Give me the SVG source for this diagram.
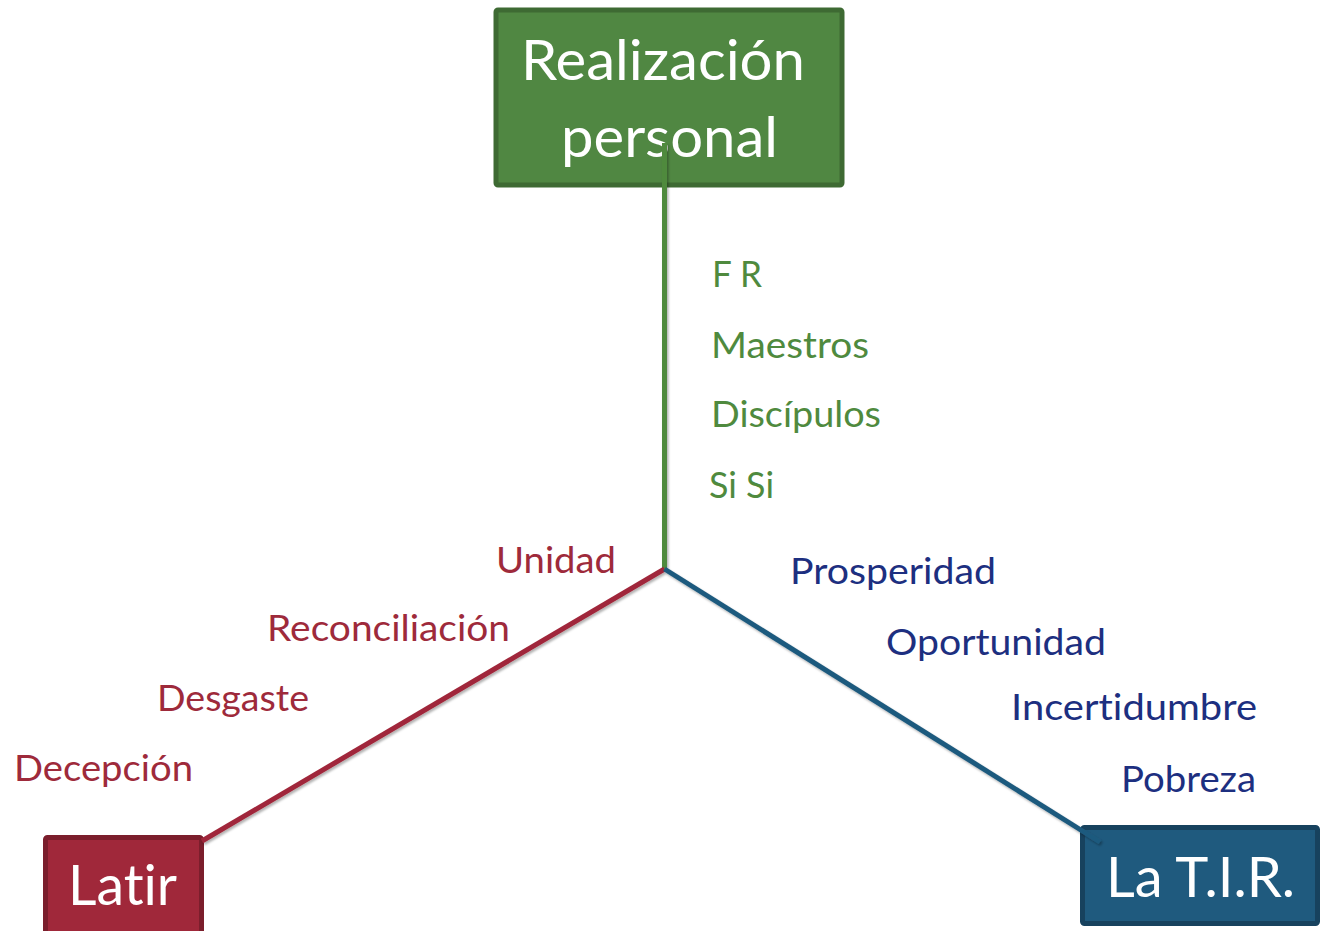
<svg xmlns="http://www.w3.org/2000/svg" width="1321" height="931" viewBox="0 0 1321 931">
<style>
text{font-family:Lato,"Open Sans","Liberation Sans",sans-serif;font-variant-ligatures:none;font-feature-settings:"liga" 0,"clig" 0;}
.big{font-size:56px;fill:#ffffff;}
.lbl{font-size:37px;}
.g{fill:#4f8a3e;}
.r{fill:#9e2a3b;}
.b{fill:#1d2f80;}
.conn{stroke-width:5;fill:none;}
</style>
<defs>
<filter id="sh" filterUnits="userSpaceOnUse" x="0" y="0" width="1321" height="931">
<feDropShadow dx="1.5" dy="2" stdDeviation="1.2" flood-color="#000" flood-opacity="0.3"/>
</filter>
</defs>
<rect width="1321" height="931" fill="#ffffff"/>
<g id="node-realizacion">
<rect x="496" y="10" width="346" height="175" rx="2" fill="#508742" stroke="#3e6a33" stroke-width="5"/>
<text class="big" x="521" y="80" textLength="284" lengthAdjust="spacingAndGlyphs">Realización</text>
<text class="big" x="561" y="157" textLength="217" lengthAdjust="spacingAndGlyphs">personal</text>
</g>
<g id="node-latir">
<rect x="45.5" y="837.5" width="156" height="110" rx="2" fill="#a0283a" stroke="#7b1e2c" stroke-width="5"/>
<text class="big" x="68" y="905" textLength="109" lengthAdjust="spacingAndGlyphs">Latir</text>
</g>
<g id="node-tir">
<rect x="1082.5" y="827.5" width="235" height="96" rx="2" fill="#1f5a7e" stroke="#17425e" stroke-width="5"/>
<text class="big" x="1106" y="897" textLength="189" lengthAdjust="spacingAndGlyphs">La T.I.R.</text>
</g>
<g id="connectors" filter="url(#sh)">
<line class="conn" x1="664.5" y1="143" x2="664.5" y2="570" stroke="#4f8a3e"/>
<line class="conn" x1="664.5" y1="569" x2="202" y2="841" stroke="#a0283a"/>
<line class="conn" x1="664.5" y1="569" x2="1100" y2="842" stroke="#1f5a7e"/>
</g>
<g id="labels-realizacion">
<text class="lbl g" x="712" y="287" textLength="50" lengthAdjust="spacingAndGlyphs">F R</text>
<text class="lbl g" x="711" y="358" textLength="158" lengthAdjust="spacingAndGlyphs">Maestros</text>
<text class="lbl g" x="711" y="427" textLength="170" lengthAdjust="spacingAndGlyphs">Discípulos</text>
<text class="lbl g" x="709" y="498" textLength="65" lengthAdjust="spacingAndGlyphs">Si Si</text>
</g>
<g id="labels-latir">
<text class="lbl r" x="496" y="573" textLength="120" lengthAdjust="spacingAndGlyphs">Unidad</text>
<text class="lbl r" x="267" y="641" textLength="243" lengthAdjust="spacingAndGlyphs">Reconciliación</text>
<text class="lbl r" x="157" y="711" textLength="152" lengthAdjust="spacingAndGlyphs">Desgaste</text>
<text class="lbl r" x="14" y="781" textLength="179" lengthAdjust="spacingAndGlyphs">Decepción</text>
</g>
<g id="labels-tir">
<text class="lbl b" x="790" y="584" textLength="206" lengthAdjust="spacingAndGlyphs">Prosperidad</text>
<text class="lbl b" x="886" y="655" textLength="220" lengthAdjust="spacingAndGlyphs">Oportunidad</text>
<text class="lbl b" x="1011" y="720" textLength="246" lengthAdjust="spacingAndGlyphs">Incertidumbre</text>
<text class="lbl b" x="1121" y="792" textLength="135" lengthAdjust="spacingAndGlyphs">Pobreza</text>
</g>
</svg>
